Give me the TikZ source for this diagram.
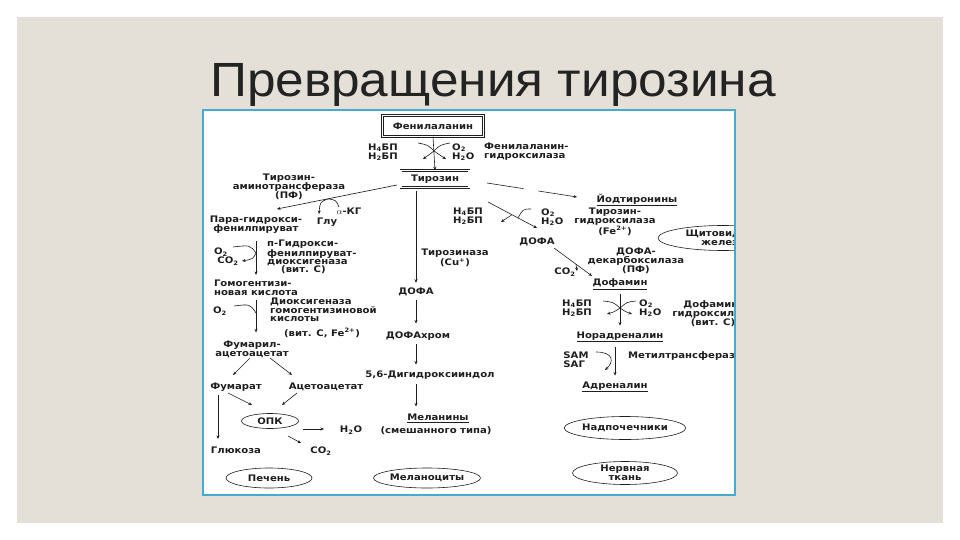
\documentclass[tikz,border=0pt]{standalone}
\usepackage{fontspec}
\usepackage{graphicx}
\setmainfont{DejaVu Sans}
\newfontfamily\lblfont{DejaVu Sans}[FakeStretch=1.12]
\newfontfamily\titlefont{Liberation Sans}
\usetikzlibrary{shapes.geometric,arrows.meta}
\definecolor{slidebg}{RGB}{228,224,215}
\definecolor{framebl}{RGB}{70,170,210}
\definecolor{titlecol}{RGB}{35,35,35}
\definecolor{ink}{RGB}{30,30,30}
\begin{document}
\begin{tikzpicture}[x=1pt,y=-1pt,
  lbl/.style={font=\lblfont\bfseries\fontsize{9}{9}\selectfont, inner sep=0pt, align=center, text=ink},
  lbll/.style={lbl, align=left},
  dbox/.style={lbl, draw=ink, double, double distance=1.2pt, line width=0.5pt, inner sep=0pt},
  organ/.style={lbl, draw=ink, ellipse, line width=0.6pt, inner sep=0pt},
  ln/.style={draw=ink, line width=0.6pt},
  arr/.style={ln, -{Stealth[length=3.5pt,width=3pt]}},
]
\useasboundingbox (0,0) rectangle (960,540);
\fill[white] (0,0) rectangle (960,540);
\fill[slidebg] (17,17) rectangle (943,523);
\node[font=\titlefont\fontsize{48}{48}\selectfont, text=titlecol, anchor=base, inner sep=0pt] (title) at (493,97) {\scalebox{1.07}[1]{Превращения тирозина}};
\fill[white] (203,110) rectangle (735,495);

\begin{scope}
\clip (203,110) rectangle (735,495);
% ---------- top ----------
\node[dbox, minimum width=101pt, minimum height=21pt] (phe) at (433,126) {Фенилаланин};
\node[dbox, minimum width=68pt, minimum height=17pt] (tyr) at (435,179) {Тирозин};
\node[lbl, align=right, anchor=east] (h4a) at (398,152) {H\textsubscript{4}БП\\H\textsubscript{2}БП};
\node[lbll, anchor=west] (o2a) at (452,152) {O\textsubscript{2}\\H\textsubscript{2}O};
\node[lbll, anchor=west] (enz1) at (484,152) {Фенилаланин-\\гидроксилаза};
\draw[arr] (phe.south) -- (tyr.north);
\coordinate (c1) at (434,151);
\coordinate (c1a) at (418,143); \coordinate (c1b) at (423,159);
\coordinate (c1c) at (450,143); \coordinate (c1d) at (446,159);
\draw[ln] (c1a) .. controls (428,145) .. (c1);
\draw[arr] (c1) .. controls (429,155) .. (c1b);
\draw[ln] (c1c) .. controls (440,145) .. (c1);
\draw[arr] (c1) .. controls (439,155) .. (c1d);

% ---------- left branch ----------
\node[lbl] (ta) at (289,187) {Тирозин-\\аминотрансфераза\\(ПФ)};
\node[lbl] (akg) at (349,211) {$\alpha$-КГ};
\node[lbl] (glu) at (327,222) {Глу};
\node[lbl] (ppyr) at (256,225) {Пара-гидрокси-\\фенилпируват};
\coordinate (t1) at (397,185); \coordinate (t2) at (277,209);
\draw[arr] (t1) -- (t2);
\coordinate (tb1) at (328,198.9);
\coordinate (tb0) at (339,207); \coordinate (tb2) at (319,214);
\draw[ln] (tb0) .. controls (336,200) .. (tb1);
\draw[arr] (tb1) .. controls (320,202) .. (tb2);

\node[lbll, anchor=west, font=\lblfont\bfseries\fontsize{9}{8.3}\selectfont] (hpd) at (267,257) {п-Гидрокси-\\фенилпируват-\\диоксигеназа\\\hspace*{14pt}(вит. С)};
\node[lbl] (o2b) at (221,252) {O\textsubscript{2}};
\node[lbl] (co2b) at (228,261) {CO\textsubscript{2}};
\node[lbl, align=left] (hga) at (256,288) {Гомогентизи-\\новая кислота};
\draw[arr, shorten <=7pt, shorten >=5pt] (ppyr.south) -- (ppyr.south |- hga.north);
\coordinate (c2) at (256,253);
\coordinate (c2a) at (233,247); \coordinate (c2b) at (242,261);
\draw[ln] (c2a) .. controls (250,245) .. (c2);
\draw[arr] (c2) .. controls (253,259) .. (c2b);

\node[lbll, anchor=west, font=\lblfont\bfseries\fontsize{9}{8.3}\selectfont] (dhg) at (270,310) {Диоксигеназа\\гомогентизиновой\\кислоты};
\node[lbl] (dhg2) at (322,333) {(вит. С, Fe\textsuperscript{2+})};
\node[lbl] (o2e) at (220,311) {O\textsubscript{2}};
\node[lbl] (fum) at (252,349) {Фумарил-\\ацетоацетат};
\draw[arr, shorten <=4pt, shorten >=8pt] (hga.south -| ppyr.south) -- (fum.north -| ppyr.south);
\coordinate (c3) at (256,313);
\coordinate (c3a) at (234,306);
\draw[ln] (c3a) .. controls (250,304) .. (c3);

\node[lbl] (fumarat) at (236,387) {Фумарат};
\node[lbl] (acac) at (326,387) {Ацетоацетат};
\coordinate (f1) at (250,358); \coordinate (f2) at (233,375);
\coordinate (f3) at (270,358); \coordinate (f4) at (292,375);
\draw[arr] (f1) -- (f2);
\draw[arr] (f3) -- (f4);
\node[organ, minimum width=57pt, minimum height=15pt] (opk) at (270,421) {ОПК};
\coordinate (o1) at (228,393); \coordinate (o2) at (252,405);
\coordinate (o3) at (297,393); \coordinate (o4) at (282,405);
\draw[arr] (o1) -- (o2);
\draw[arr] (o3) -- (o4);
\node[lbl] (h2ol) at (351,430) {H\textsubscript{2}O};
\node[lbl] (co2l) at (321,451) {CO\textsubscript{2}};
\node[lbl] (glc) at (236,450) {Глюкоза};
\coordinate (w1) at (303,429); \coordinate (w2) at (324,429);
\draw[arr] (w1) -- (w2);
\coordinate (k1) at (288,436); \coordinate (k2) at (301,443);
\draw[arr] (k1) -- (k2);
\coordinate (g1) at (218,395); \coordinate (g2) at (218,439);
\draw[arr] (g1) -- (g2);
\node[organ, minimum width=86pt, minimum height=20pt] (pechen) at (269,478) {Печень};

% ---------- middle ----------
\node[lbl] (tyrase) at (455,258) {Тирозиназа\\(Cu\textsuperscript{+})};
\node[lbl] (dofam) at (416,292) {ДОФА};
\node[lbl] (dchrom) at (418,336) {ДОФАхром};
\node[lbl] (dhi) at (430,375) {5,6-Дигидроксииндол};
\node[lbl] (mel1) at (438,418) {\underline{Меланины}};
\node[lbl] (mel2) at (436,431) {(смешанного типа)};
\node[organ, minimum width=107pt, minimum height=20pt] (melcyt) at (427,478) {Меланоциты};
\draw[arr, shorten <=3pt, shorten >=5pt] (tyr.south -| dofam) -- (dofam.north);
\draw[arr, shorten <=4pt, shorten >=8pt] (dofam.south) -- (dchrom.north -| dofam);
\draw[arr, shorten <=4pt, shorten >=6pt] (dchrom.south -| dofam) -- (dhi.north -| dofam);
\draw[arr, shorten <=5pt, shorten >=7pt] (dhi.south -| dofam) -- (mel1.north -| dofam);

% ---------- right ----------
\node[lbl] (yod) at (637,200) {\underline{Йодтиронины}};
\node[organ, minimum width=130pt, minimum height=25pt] (shch) at (723,238) {Щитовидная\\железа};
\coordinate (y0) at (487,183); \coordinate (y1) at (577,197);
\draw[arr, dash pattern=on 37pt off 15pt] (y0) -- (y1);

\node[lbl] (dofar) at (537,242) {ДОФА};
\node[lbl, align=right] (h4b) at (468,216) {H\textsubscript{4}БП\\H\textsubscript{2}БП};
\node[lbll, anchor=west] (o2c) at (541,217) {O\textsubscript{2}\\H\textsubscript{2}O};
\node[lbl] (th) at (615,222) {Тирозин-\\гидроксилаза\\(Fe\textsuperscript{2+})};
\coordinate (d0) at (488,202); \coordinate (d1) at (537,228);
\draw[arr] (d0) -- (d1);
\coordinate (c4) at (512,214.7); \coordinate (c4a) at (501,222);
\draw[arr] (c4) .. controls (507,218) .. (c4a);
\coordinate (c5) at (518,217.9); \coordinate (c5a) at (531,209);
\draw[ln] (c5a) .. controls (523,209) .. (c5);

\node[lbl] (co2r) at (565,272) {CO\textsubscript{2}};
\node[lbl] (ddc) at (636,261) {ДОФА-\\декарбоксилаза\\(ПФ)};
\node[lbl] (dopamine) at (620,284) {\underline{Дофамин}};
\coordinate (e0) at (554,248); \coordinate (e1) at (592,276);
\draw[arr] (e0) -- (e1);
\coordinate (c6) at (576,264.3); \coordinate (c6a) at (577,271);
\draw[arr] (c6) -- (c6a);

\node[lbl, align=right] (h4c) at (577,308) {H\textsubscript{4}БП\\H\textsubscript{2}БП};
\node[lbll, anchor=west] (o2d) at (639,308) {O\textsubscript{2}\\H\textsubscript{2}O};
\node[lbl, font=\lblfont\bfseries\fontsize{9}{8.3}\selectfont] (dbh) at (713,314) {Дофамин-\\гидроксилаза\\(вит. С)};
\node[lbl] (norad) at (620,337) {\underline{Норадреналин}};
\draw[arr, shorten <=4pt, shorten >=6pt] (dopamine.south) -- (norad.north);
\coordinate (c7) at (620,308);
\coordinate (c7a) at (603,301); \coordinate (c7b) at (607,314);
\coordinate (c7c) at (636,301); \coordinate (c7d) at (632,314);
\draw[ln] (c7a) .. controls (613,302) .. (c7);
\draw[arr] (c7) .. controls (614,312) .. (c7b);
\draw[ln] (c7c) .. controls (627,302) .. (c7);
\draw[arr] (c7) .. controls (626,312) .. (c7d);

\node[lbl, align=left] (sam) at (576,360) {SAM\\SAГ};
\node[lbll, anchor=west] (mt) at (628,356) {Метилтрансфераза};
\node[lbl] (adr) at (615,387) {\underline{Адреналин}};
\draw[arr, shorten <=5pt, shorten >=6pt] (norad.south -| adr) -- (adr.north);
\coordinate (s0) at (596,352); \coordinate (s1) at (605,370);
\draw[arr] (s0) .. controls (614,352) and (614,362) .. (s1);

\node[organ, minimum width=105pt, minimum height=23pt] (nadp) at (625,428) {Надпочечники};
\node[organ, minimum width=105pt, minimum height=23pt] (nerv) at (625,473) {Нервная\\ткань};
\end{scope}
\draw[framebl, line width=1.6pt] (203,110) rectangle (735,495);
\end{tikzpicture}
\end{document}
